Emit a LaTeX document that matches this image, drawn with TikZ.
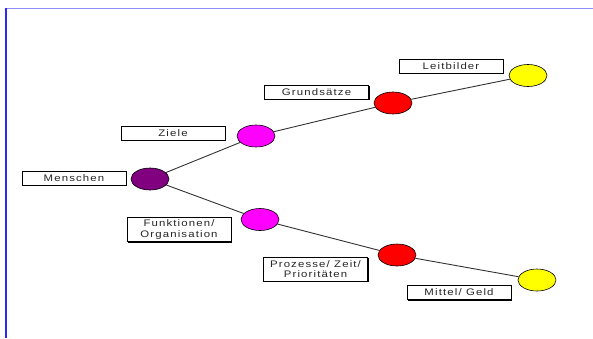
\documentclass[tikz,border=0pt]{standalone}
\usepackage{fontspec}
\setmainfont{Liberation Sans}[LetterSpace=12, FakeStretch=1.2]
\usetikzlibrary{shadows,shapes.geometric}
\definecolor{frameblue}{RGB}{40,40,255}
\definecolor{toplineblue}{RGB}{140,140,255}
\definecolor{linkgray}{RGB}{50,50,50}
\definecolor{stagepurple}{RGB}{128,0,128}
\definecolor{stagemagenta}{RGB}{255,0,255}
\definecolor{stagered}{RGB}{255,0,0}
\definecolor{stageyellow}{RGB}{255,255,0}
\tikzset{%
  x=1pt, y=-1pt,
  topic/.style={draw=black, fill=white, line width=0.7pt, minimum width=104pt,
    minimum height=14pt, inner sep=1pt, align=center,
    font=\fontsize{9.5}{10.5}\selectfont, text=black!85,
    drop shadow={shadow xshift=1.4pt, shadow yshift=-1.4pt, fill=black, opacity=1}},
  stage/.style={draw=black, line width=0.6pt, ellipse, minimum width=38pt,
    minimum height=22pt, inner sep=0pt},
  link/.style={draw=linkgray, line width=0.9pt}
}
\begin{document}
\begin{tikzpicture}

\useasboundingbox (0,0) rectangle (593,338);
% frame
\draw[toplineblue, line width=1.6pt] (5,8.5) -- (593,8.5);
\draw[frameblue, line width=2pt] (5.5,7.8) -- (5.5,338);

% stages
\node[stage, fill=stagepurple] (men) at (150,179) {};
\node[stage, fill=stagemagenta] (ziele) at (256,136) {};
\node[stage, fill=stagered] (grund) at (393,103) {};
\node[stage, fill=stageyellow] (leit) at (528,75.5) {};
\node[stage, fill=stagemagenta] (funk) at (260,219.5) {};
\node[stage, fill=stagered] (proz) at (397,255) {};
\node[stage, fill=stageyellow] (mittel) at (537,280) {};

% links
\draw[link] (men) -- (ziele);
\draw[link] (ziele) -- (grund);
\draw[link] (grund) -- (leit);
\draw[link] (men) -- (funk);
\draw[link] (funk) -- (proz);
\draw[link] (proz) -- (mittel);

% labels
\node[topic] (tmen) at (74,178) {Menschen};
\node[topic] (tziele) at (173,133) {Ziele};
\node[topic] (tgrund) at (316.5,92) {Grundsätze};
\node[topic] (tleit) at (451,66) {Leitbilder};
\node[topic, minimum height=24pt] (tfunk) at (179,229.5) {Funktionen/\\Organisation};
\node[topic, minimum height=24pt] (tproz) at (315.5,269) {Prozesse/ Zeit/\\Prioritäten};
\node[topic] (tmittel) at (459,292.5) {Mittel/ Geld};

\end{tikzpicture}
\end{document}
